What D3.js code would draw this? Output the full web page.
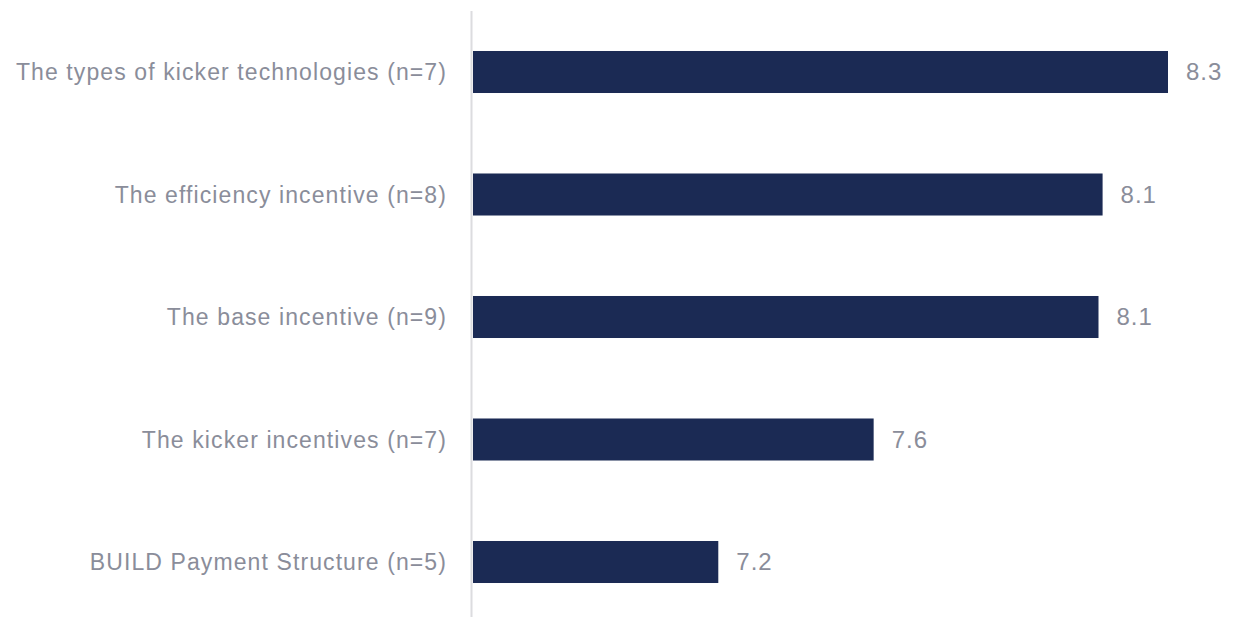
<!DOCTYPE html>
<html>
<head>
<meta charset="utf-8">
<script src="https://cdn.jsdelivr.net/npm/d3@7"></script>
<style>
  body { margin: 0; background: #fff; }
  text { font-family: "Liberation Sans", Arial, sans-serif; }
</style>
</head>
<body>
<svg id="chart" width="1233" height="617"></svg>
<script>
// data
const categories = [
    "The types of kicker technologies (n=7)",
    "The efficiency incentive (n=8)",
    "The base incentive (n=9)",
    "The kicker incentives (n=7)",
    "BUILD Payment Structure (n=5)"
];
const values = [8.3, 8.14, 8.13, 7.58, 7.2];

const svg = d3.select("#chart");

const x = d3.scaleLinear()
    .domain([6.6, 8.3])
    .range([473, 1168]);

const y = d3.scaleBand()
    .domain(categories)
    .range([10.75, 623.25])
    .paddingInner(0.657)
    .paddingOuter(0.3285);

// bars
svg.append("g")
    .selectAll("rect")
    .data(categories)
    .join("rect")
    .attr("x", x(6.6))
    .attr("y", d => y(d))
    .attr("width", (d, i) => x(values[i]) - x(6.6))
    .attr("height", y.bandwidth())
    .attr("fill", "#1b2a54");

// axis line on the left
svg.append("line")
    .attr("x1", 471.5).attr("x2", 471.5)
    .attr("y1", 11).attr("y2", 617)
    .attr("stroke", "#dcdcdf")
    .attr("stroke-width", 2);

// category labels
svg.append("g")
    .selectAll("text")
    .data(categories)
    .join("text")
    .attr("x", 447)
    .attr("y", d => y(d) + y.bandwidth() / 2)
    .attr("dy", "0.35em")
    .attr("text-anchor", "end")
    .attr("fill", "#8a8d9a")
    .style("font-size", "23px")
    .style("letter-spacing", "1.1px")
    .text(d => d);

// value labels
svg.append("g")
    .selectAll("text")
    .data(categories)
    .join("text")
    .attr("x", (d, i) => x(values[i]) + 18)
    .attr("y", d => y(d) + y.bandwidth() / 2)
    .attr("dy", "0.35em")
    .attr("fill", "#8a8d9a")
    .style("font-size", "24px")
    .style("letter-spacing", "1px")
    .text((d, i) => d3.format(".1f")(values[i]));
</script>
</body>
</html>
